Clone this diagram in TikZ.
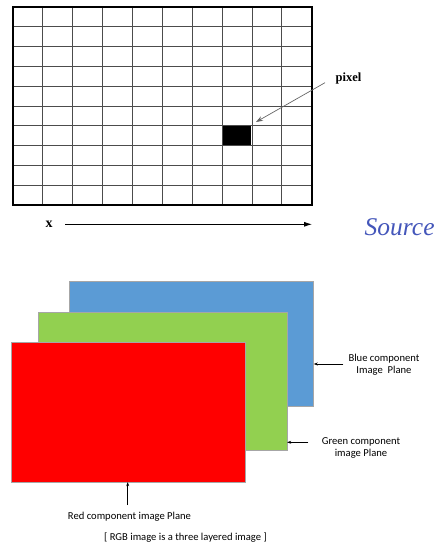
\documentclass[tikz,border=0pt]{standalone}
\usepackage{fontspec}
\setmainfont{Liberation Serif}
\newfontfamily\calib{Carlito}
\usetikzlibrary{arrows.meta}
\definecolor{srcblue}{RGB}{68,86,186}
\definecolor{planeblue}{RGB}{91,155,213}
\definecolor{planegreen}{RGB}{146,208,80}
\definecolor{planered}{RGB}{255,0,0}
\tikzset{
  plane/.style={draw=gray!70, line width=0.5pt},
  lbl/.style={font=\calib\fontsize{10.6}{12}\selectfont, align=center, inner sep=0pt},
  ptr/.style={-{Stealth[length=4pt,width=3pt]}, line width=0.6pt},
  gridline/.style={gray!60!black, line width=0.7pt}
}
\begin{document}
\begin{tikzpicture}[x=1pt,y=-1pt]
\useasboundingbox (0,0) rectangle (435,552);
\begin{scope}
\clip (0,0) rectangle (435,552);
% grid
\fill[black] (222,126) rectangle (250.6,146);
\foreach \i in {1,...,9} {
  \draw[gridline] ({12.7+29.9*\i},6.7) -- ({12.7+29.9*\i},205);
  \draw[gridline] (12.7,{6.7+19.83*\i}) -- (311.7,{6.7+19.83*\i});
}
\draw[black, line width=1.8pt] (12.7,6.7) rectangle (311.7,205);
\node[inner sep=0pt] (pixeltxt) at (348.5,78) {\fontsize{12.5}{14}\selectfont\bfseries pixel};
\coordinate (pixtail) at (325,82.7);
\coordinate (pixhead) at (256,122);
\draw[gray!80!black, line width=0.7pt, -{Stealth[length=7pt,width=5pt]}] (pixtail) -- (pixhead);
% x axis
\node[inner sep=0pt] (xlbl) at (49,224.5) {\fontsize{14}{15}\selectfont\bfseries x};
\coordinate (xs) at (65,224.3);
\coordinate (xe) at (312,224.3);
\draw[line width=0.8pt, -{Latex[length=8pt,width=5pt]}] (xs) -- (xe);
\node[anchor=base west, inner sep=0pt, text=srcblue] (src) at (364.5,235.5) {\fontsize{25.5}{27}\selectfont\itshape Source};
\end{scope}
% planes
\node[plane, fill=planeblue, minimum width=244.3, minimum height=125, inner sep=0pt, anchor=north west] (blue) at (69,280.7) {};
\node[plane, fill=planegreen, minimum width=249, minimum height=138.3, inner sep=0pt, anchor=north west] (green) at (37.7,311.7) {};
\node[plane, fill=planered, minimum width=234, minimum height=139.4, inner sep=0pt, anchor=north west] (red) at (11,342.3) {};
% labels
\node[lbl] (bluelbl) at (384,365) {Blue component\\Image\ \ Plane};
\node[lbl] (greenlbl) at (361,447.8) {Green component\\image Plane};
\node[lbl] (redlbl) at (129.5,516.7) {Red component image Plane};
\node[lbl] (cap) at (185.5,537.7) {[ RGB image is a three layered image ]};
\coordinate (bluetail) at (343.3,364);
\coordinate (greentail) at (308.3,442.3);
\coordinate (redtail) at (127.7,505);
\draw[ptr] (bluetail) -- (blue.east |- bluetail);
\draw[ptr] (greentail) -- (green.east |- greentail);
\draw[ptr] (redtail) -- (redtail |- red.south);
\end{tikzpicture}
\end{document}
